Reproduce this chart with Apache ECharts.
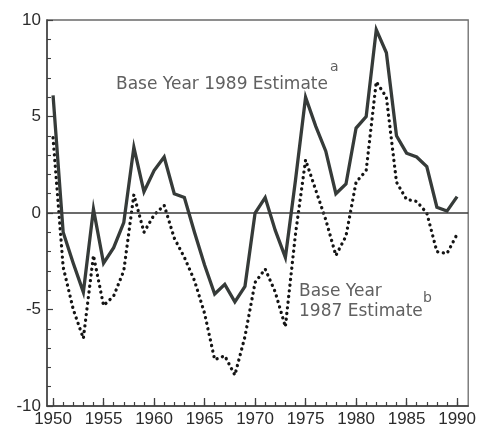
<!DOCTYPE html>
<html>
<head>
<meta charset="utf-8">
<script src="https://cdn.jsdelivr.net/npm/echarts@6/dist/echarts.min.js"></script>
<style>
  html, body { margin: 0; padding: 0; background: #ffffff; }
  #chart { width: 479px; height: 431px; }
</style>
</head>
<body>
<div id="chart"></div>
<script>
// Years on the horizontal axis
const years = [1950, 1951, 1952, 1953, 1954, 1955, 1956, 1957, 1958, 1959,
               1960, 1961, 1962, 1963, 1964, 1965, 1966, 1967, 1968, 1969,
               1970, 1971, 1972, 1973, 1974, 1975, 1976, 1977, 1978, 1979,
               1980, 1981, 1982, 1983, 1984, 1985, 1986, 1987, 1988, 1989, 1990];

// Base year 1989 estimate (solid line)
const est1989 = [6.1, -1.0, -2.6, -4.1, 0.2, -2.6, -1.8, -0.5, 3.4, 1.1,
                 2.2, 2.9, 1.0, 0.8, -1.0, -2.7, -4.2, -3.7, -4.6, -3.8,
                 0.0, 0.8, -0.9, -2.3, 1.7, 6.0, 4.5, 3.2, 1.0, 1.5,
                 4.4, 5.0, 9.5, 8.3, 4.0, 3.1, 2.9, 2.4, 0.3, 0.1, 0.85];

// Base year 1987 estimate (dotted line)
const est1987 = [3.9, -2.8, -5.0, -6.5, -2.2, -4.8, -4.3, -3.0, 0.95, -1.0,
                 -0.1, 0.4, -1.3, -2.3, -3.5, -5.2, -7.6, -7.4, -8.4, -6.4,
                 -3.6, -2.9, -4.1, -5.9, -1.1, 2.75, 1.2, -0.35, -2.2, -1.2,
                 1.6, 2.2, 6.8, 6.0, 1.6, 0.7, 0.6, 0.0, -2.0, -2.1, -1.1];

// Labelled year ticks
const xTickLabels = [1950, 1955, 1960, 1965, 1970, 1975, 1980, 1985, 1990];

const pair = (vals) => years.map((y, i) => [y, vals[i]]);

const FONT = '"Liberation Sans", Arial, Helvetica, sans-serif';
const NOTE_FONT = '"DejaVu Sans", "Liberation Sans", sans-serif';
const AXIS_COLOR = '#3f3f3f';
const TEXT_COLOR = '#2b2b2b';
const NOTE_COLOR = '#606060';

const chart = echarts.init(document.getElementById('chart'), null, { renderer: 'canvas' });

chart.setOption({
  animation: false,
  backgroundColor: '#ffffff',
  grid: {
    left: 47, top: 20, right: 10, bottom: 25,
    show: true, borderColor: '#6a6a6a', borderWidth: 1.3, backgroundColor: 'transparent'
  },
  xAxis: [
    {
      type: 'value', min: 1949.4, max: 1991.1, position: 'bottom',
      axisLine: { show: true, onZero: false, lineStyle: { color: AXIS_COLOR, width: 1.5 } },
      axisTick: { show: true, inside: true, length: 8, customValues: xTickLabels,
                  lineStyle: { color: AXIS_COLOR, width: 1.3 } },
      axisLabel: { customValues: xTickLabels, color: TEXT_COLOR, fontSize: 17,
                   fontFamily: FONT, margin: 5, formatter: (v) => String(v) },
      splitLine: { show: false }
    },
    {
      type: 'value', min: 1949.4, max: 1991.1, position: 'bottom',
      axisLine: { show: false, onZero: false },
      axisTick: { show: true, inside: true, length: 4, customValues: years,
                  lineStyle: { color: AXIS_COLOR, width: 1.2 } },
      axisLabel: { show: false },
      splitLine: { show: false }
    }
  ],
  yAxis: {
    type: 'value', min: -10, max: 10, interval: 5,
    axisLine: { show: true, onZero: false, lineStyle: { color: AXIS_COLOR, width: 1.5 } },
    axisTick: { show: true, inside: true, length: 6, lineStyle: { color: AXIS_COLOR, width: 1.2 } },
    minorTick: { show: true, splitNumber: 5, length: 4, lineStyle: { color: AXIS_COLOR, width: 1.1 } },
    axisLabel: { color: TEXT_COLOR, fontSize: 17, fontFamily: FONT, margin: 6 },
    splitLine: { show: false }
  },
  series: [
    {
      name: 'Base Year 1987 Estimate',
      type: 'line',
      data: pair(est1987),
      showSymbol: false,
      symbol: 'none',
      lineStyle: { color: '#141414', width: 3.3, type: [0.1, 5.6], cap: 'round', join: 'round' },
      z: 3
    },
    {
      name: 'Base Year 1989 Estimate',
      type: 'line',
      data: pair(est1989),
      showSymbol: false,
      symbol: 'none',
      lineStyle: { color: '#363b39', width: 3.3, join: 'miter' },
      z: 4,
      markLine: {
        silent: true,
        symbol: 'none',
        label: { show: false },
        lineStyle: { color: '#3a3a3a', width: 1.6, type: 'solid' },
        data: [{ yAxis: 0 }]
      }
    }
  ],
  graphic: [
    { type: 'text', left: 116, top: 76,
      style: { text: 'Base Year 1989 Estimate', fill: NOTE_COLOR, font: '17px ' + NOTE_FONT } },
    { type: 'text', left: 330, top: 60,
      style: { text: 'a', fill: NOTE_COLOR, font: '14px ' + NOTE_FONT } },
    { type: 'text', left: 299, top: 283,
      style: { text: 'Base Year', fill: NOTE_COLOR, font: '17px ' + NOTE_FONT } },
    { type: 'text', left: 299, top: 303,
      style: { text: '1987 Estimate', fill: NOTE_COLOR, font: '17px ' + NOTE_FONT } },
    { type: 'text', left: 423, top: 291,
      style: { text: 'b', fill: NOTE_COLOR, font: '14px ' + NOTE_FONT } }
  ]
});
</script>
</body>
</html>
